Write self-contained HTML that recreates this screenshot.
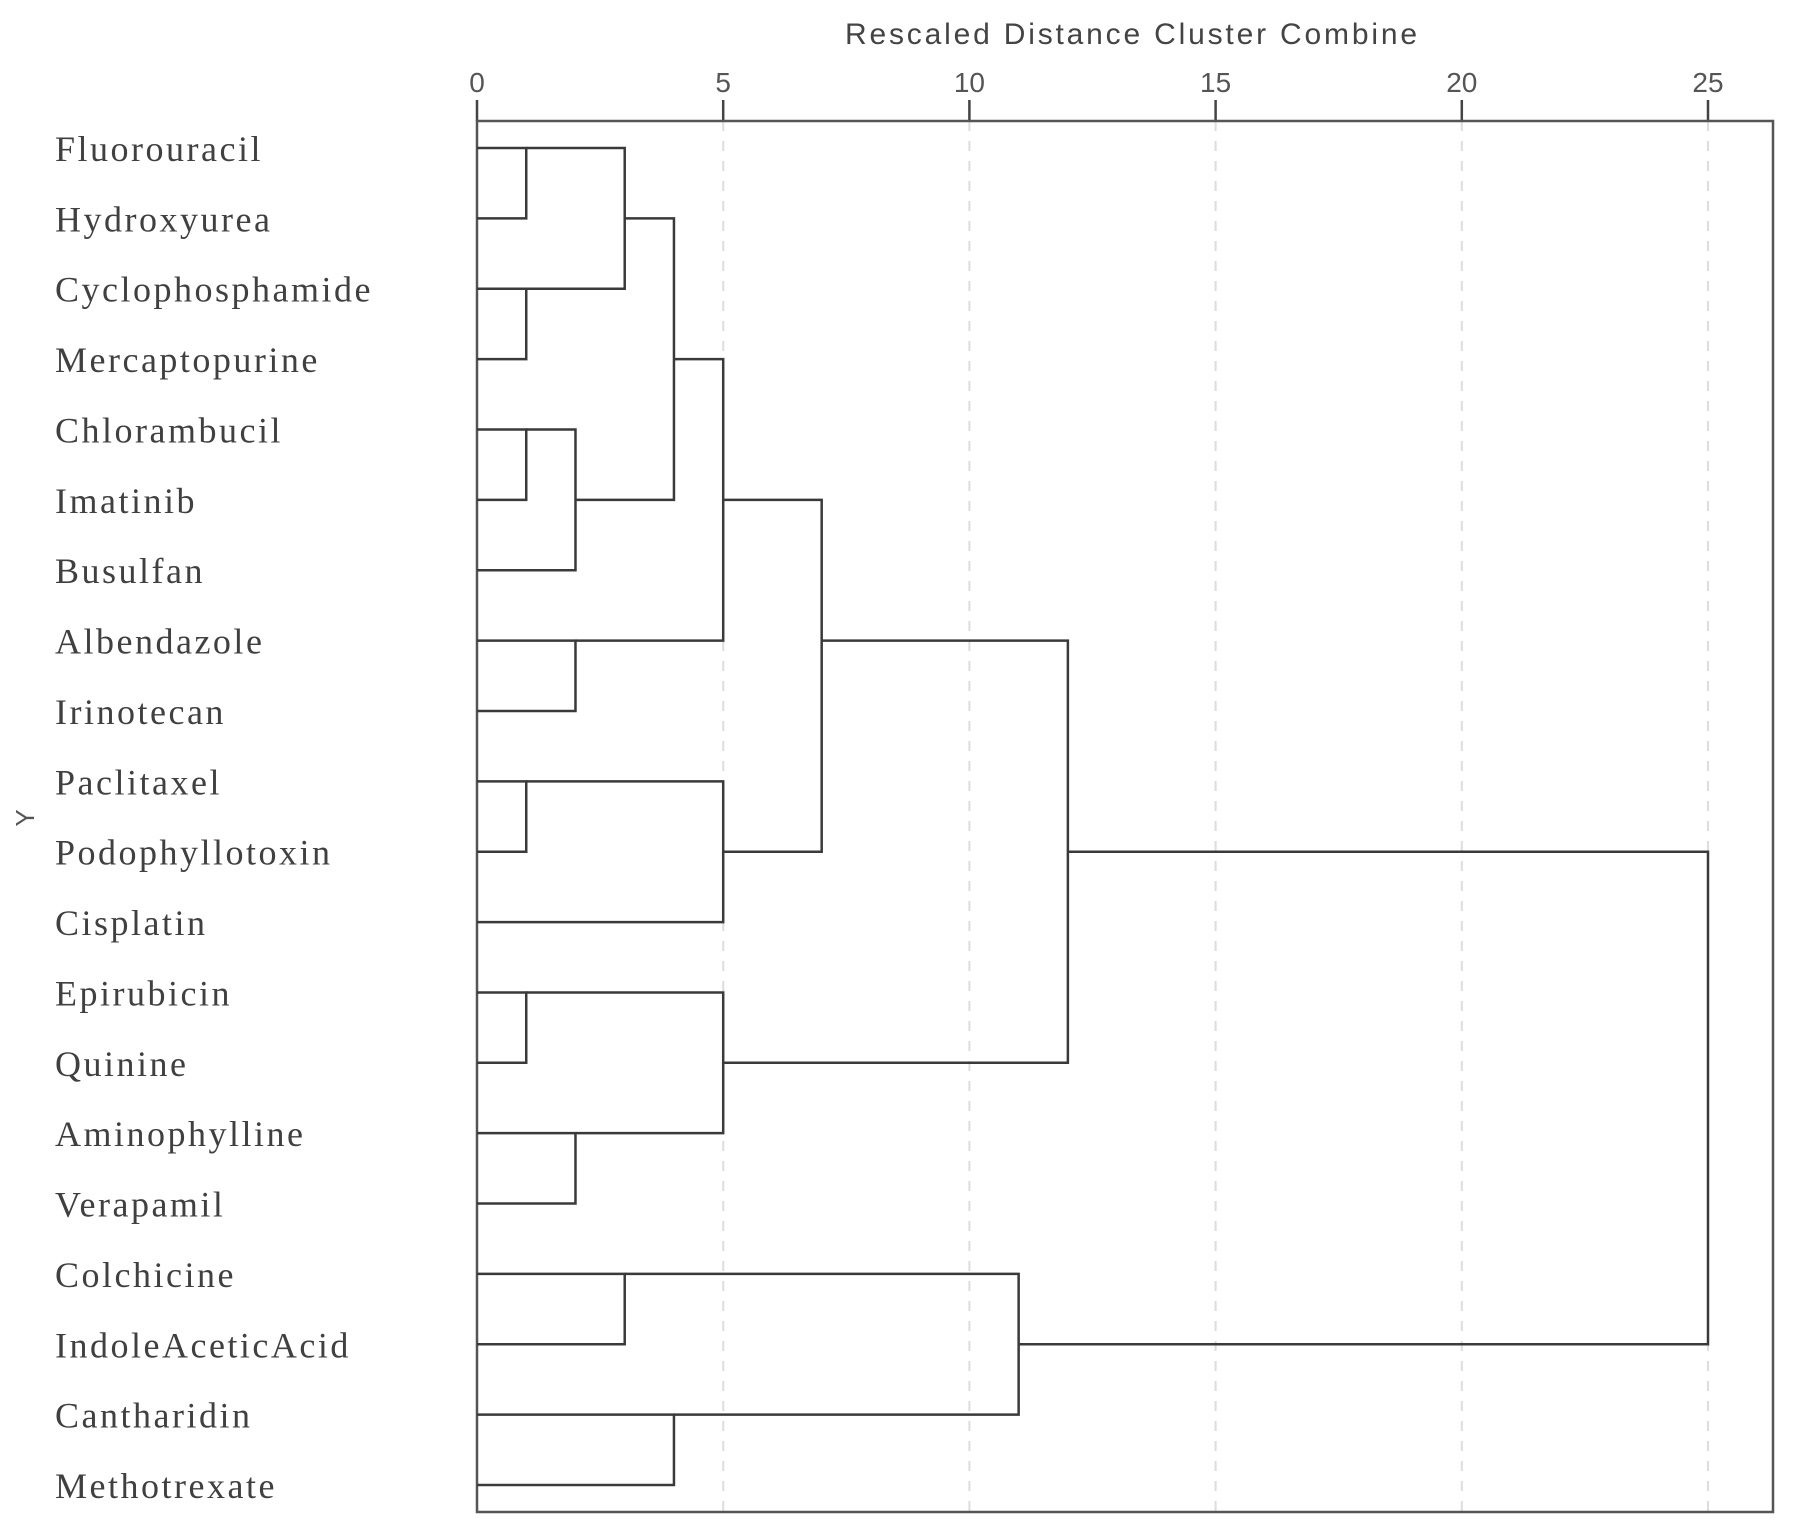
<!DOCTYPE html>
<html><head><meta charset="utf-8"><style>body{margin:0;background:#fff}svg{display:block}</style></head>
<body>
<svg id="chart" width="1795" height="1532" viewBox="0 0 1795 1532" xmlns="http://www.w3.org/2000/svg">
<rect width="1795" height="1532" fill="#fff"/>
<text x="1131" y="44" font-family="Liberation Sans, sans-serif" font-size="30" fill="#444" text-anchor="middle" textLength="572">Rescaled Distance Cluster Combine</text>
<text transform="translate(34,818) rotate(-90)" font-family="Liberation Sans, sans-serif" font-size="26" fill="#555" text-anchor="middle">Y</text>
<g id="grid"></g><g id="axis"></g><g id="labels"></g><g id="tree"></g>
</svg>
<script>
const leaves = ["Fluorouracil","Hydroxyurea","Cyclophosphamide","Mercaptopurine","Chlorambucil","Imatinib","Busulfan","Albendazole","Irinotecan","Paclitaxel","Podophyllotoxin","Cisplatin","Epirubicin","Quinine","Aminophylline","Verapamil","Colchicine","IndoleAceticAcid","Cantharidin","Methotrexate"];
const xTicks = [0,5,10,15,20,25];
const mergeChildren = [["L0","L1"],["L2","L3"],["M0","M1"],["L4","L5"],["M3","L6"],["M2","M4"],["L7","L8"],["M5","M6"],["L9","L10"],["M8","L11"],["M7","M9"],["L12","L13"],["L14","L15"],["M11","M12"],["M10","M13"],["L16","L17"],["L18","L19"],["M15","M16"],["M14","M17"]];
const mergeHeights = [1,1,3,1,2,4,2,5,1,5,7,1,2,5,12,3,4,11,25];
const mergeOutRow = [0,2,1,4,5,3,7,5,9,10,7,12,14,13,10,16,18,17,10];

const NS="http://www.w3.org/2000/svg";
const X0=477, XU=49.24, Y0=148, DY=70.37, TOP=121, BOT=1512, RIGHT=1773;
const xs=v=>X0+v*XU, ys=r=>Y0+r*DY;
function mk(tag,attrs,parent){const e=document.createElementNS(NS,tag);for(const k in attrs)e.setAttribute(k,attrs[k]);document.getElementById(parent).appendChild(e);return e;}

xTicks.forEach(t=>{
  if(t>0){const g=mk('line',{x1:xs(t),x2:xs(t),y1:TOP,y2:BOT,stroke:'#ddd','stroke-width':2,'stroke-dasharray':'10,10'},'grid');
  
  }
  const tk=mk('line',{x1:xs(t),x2:xs(t),y1:100,y2:TOP,stroke:'#444','stroke-width':2.5},'axis');
  
  
  const tl=mk('text',{x:xs(t),y:92,'font-family':'Liberation Sans, sans-serif','font-size':28,fill:'#555','text-anchor':'middle'},'axis');
  tl.textContent=t;
  
  
});
const fr=mk('rect',{x:X0,y:TOP,width:RIGHT-X0,height:BOT-TOP,fill:'none',stroke:'#555','stroke-width':2.5},'axis');



leaves.forEach((n,i)=>{
  const t=mk('text',{x:55,y:ys(i)+13,'font-family':'Liberation Serif, serif','font-size':36,fill:'#404040','letter-spacing':'2.5'},'labels');
  t.textContent=n;
  
  
});

const nodes={};
leaves.forEach((n,i)=>{nodes['L'+i]={x:xs(0),y:ys(i)};});
mergeChildren.forEach((c,i)=>{
  const a=nodes[c[0]], b=nodes[c[1]], h=xs(mergeHeights[i]);
  const p=mk('path',{d:`M${a.x} ${a.y} H${h} V${b.y} H${b.x}`,fill:'none',stroke:'#3a3a3a','stroke-width':2.5},'tree');
  
  
  nodes['M'+i]={x:h,y:ys(mergeOutRow[i])};
});
</script>
</body></html>
